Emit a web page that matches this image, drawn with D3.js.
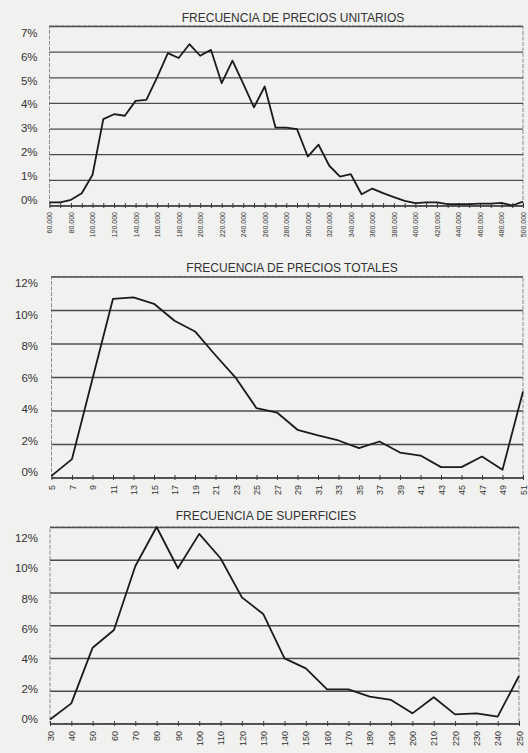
<!DOCTYPE html>
<html><head><meta charset="utf-8">
<script src="https://cdn.jsdelivr.net/npm/d3@7"></script>
<style>
body{margin:0;background:#f1f1ef}
svg{display:block}
text{font-family:"Liberation Sans",Arial,sans-serif;fill:#333}
</style>
</head><body>
<svg id="c" width="528" height="753"></svg>
<script>
// ---- DATA ----
const unitCategories = ["60.000","70.000","80.000","90.000","100.000","110.000","120.000","130.000","140.000","150.000","160.000","170.000","180.000","190.000","200.000","210.000","220.000","230.000","240.000","250.000","260.000","270.000","280.000","290.000","300.000","310.000","320.000","330.000","340.000","350.000","360.000","370.000","380.000","390.000","400.000","410.000","420.000","430.000","440.000","450.000","460.000","470.000","480.000","490.000","500.000"];
const unitValues = [0.12,0.12,0.22,0.48,1.2,3.37,3.56,3.5,4.08,4.12,5.0,5.94,5.75,6.29,5.84,6.07,4.77,5.65,4.75,3.83,4.64,3.04,3.04,2.98,1.91,2.37,1.55,1.13,1.22,0.44,0.66,0.48,0.33,0.18,0.09,0.12,0.12,0.05,0.05,0.05,0.07,0.07,0.1,0.0,0.15];
const unitLabels = ["60.000","80.000","100.000","120.000","140.000","160.000","180.000","200.000","220.000","240.000","260.000","280.000","300.000","320.000","340.000","360.000","380.000","400.000","420.000","440.000","460.000","480.000","500.000"];
const unitYTicks = [0,1,2,3,4,5,6,7];

const totalCategories = ["5","7","9","11","13","15","17","19","21","23","25","27","29","31","33","35","37","39","41","43","45","47","49","51"];
const totalValues = [0.1,1.1,5.9,10.67,10.75,10.37,9.36,8.72,7.3,5.93,4.14,3.88,2.85,2.51,2.21,1.75,2.15,1.49,1.31,0.62,0.62,1.25,0.46,5.13];
const totalYTicks = [0,2,4,6,8,10,12];

const areaCategories = ["30","40","50","60","70","80","90","100","110","120","130","140","150","160","170","180","190","200","210","220","230","240","250"];
const areaValues = [0.25,1.23,4.63,5.71,9.6,12.0,9.48,11.58,10.09,7.7,6.69,3.98,3.37,2.09,2.09,1.64,1.44,0.62,1.6,0.56,0.62,0.42,2.9];
const areaYTicks = [0,2,4,6,8,10,12];

const titles = ["FRECUENCIA DE PRECIOS UNITARIOS","FRECUENCIA DE PRECIOS TOTALES","FRECUENCIA DE SUPERFICIES"];

// ---- DRAW ----
const svg = d3.select("#c");

function drawChart(o){
  const g = svg.append("g");
  const x = d3.scalePoint().domain(o.cats).range([o.left, o.right]).padding(0);
  const y = d3.scaleLinear().domain([0, o.max]).range([o.bottom, o.top]);
  const yLab = d3.scaleLinear().domain([0, o.max]).range([o.lab0, o.labMax]);
  const w = o.right - o.left;

  g.append("text").attr("x", o.titleX).attr("y", o.titleY)
    .attr("text-anchor","middle").attr("font-size", 12).text(o.title);

  g.append("rect").attr("x", o.left).attr("y", o.top)
    .attr("width", w).attr("height", o.bottom - o.top)
    .attr("fill","none").attr("stroke","#8c8c8c").attr("stroke-width",1)
    .attr("stroke-dasharray","4,1.5");

  const grid = g.append("g").attr("transform",`translate(${o.left},0)`)
    .call(d3.axisLeft(y).tickValues(o.yTicks).tickSize(-w).tickFormat(""));
  grid.select(".domain").remove();
  grid.selectAll(".tick line").attr("stroke","#4d4d4d").attr("stroke-width",1.3);

  const yl = g.append("g").attr("transform",`translate(${o.labelX},0)`)
    .call(d3.axisLeft(yLab).tickValues(o.yTicks).tickSize(0).tickPadding(0).tickFormat(d => d + "%"));
  yl.select(".domain").remove();
  yl.selectAll("text").attr("font-size", 11.5).attr("fill","#333");

  const xa = g.append("g").attr("transform",`translate(0,${o.bottom})`)
    .call(d3.axisBottom(x).tickSize(2.5).tickSizeOuter(0).tickFormat(""));
  xa.select(".domain").attr("stroke","#3a3a3a").attr("stroke-width",1.2);
  xa.selectAll(".tick line").attr("y1",-2.5).attr("stroke","#3a3a3a");

  const xl = g.append("g").attr("transform",`translate(0,${o.labelY})`)
    .call(d3.axisBottom(x).tickValues(o.labels).tickSize(0).tickPadding(0));
  xl.select(".domain").remove();
  xl.selectAll("text")
    .attr("transform","rotate(-90)")
    .attr("text-anchor","end")
    .attr("x",0).attr("y",0).attr("dy","0.35em")
    .attr("font-size", o.xFont).attr("fill","#4a4a4a");

  const data = o.cats.map((c,i) => ({c, v: o.values[i]}));
  g.append("path").datum(data)
    .attr("fill","none").attr("stroke","#1b1b1b").attr("stroke-width",1.8)
    .attr("stroke-linejoin","round")
    .attr("d", d3.line().x(d => x(d.c)).y(d => y(d.v)));
}

drawChart({
  title: titles[0], titleX: 293, titleY: 22,
  cats: unitCategories, values: unitValues, labels: unitLabels,
  yTicks: unitYTicks, max: 7,
  left: 49.5, right: 523, top: 26, bottom: 205.5,
  lab0: 200, labMax: 32.5, labelX: 37.5, labelY: 212, xFont: 7
});

drawChart({
  title: titles[1], titleX: 292, titleY: 272,
  cats: totalCategories, values: totalValues, labels: totalCategories,
  yTicks: totalYTicks, max: 12,
  left: 51.5, right: 523, top: 276.5, bottom: 477.5,
  lab0: 472.3, labMax: 283.3, labelX: 38, labelY: 485, xFont: 9
});

drawChart({
  title: titles[2], titleX: 266, titleY: 520,
  cats: areaCategories, values: areaValues, labels: areaCategories,
  yTicks: areaYTicks, max: 12,
  left: 50, right: 519, top: 527, bottom: 723.5,
  lab0: 719, labMax: 538, labelX: 38, labelY: 731, xFont: 9
});
</script>
</body></html>
